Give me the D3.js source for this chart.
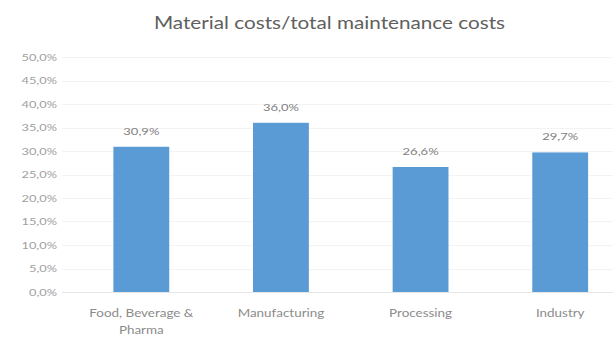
<!DOCTYPE html>
<html>
<head>
<meta charset="utf-8">
<script src="https://cdn.jsdelivr.net/npm/d3@7"></script>
<style>
  html, body { margin: 0; padding: 0; background: #fff; }
  svg { display: block; }
  text { font-family: Lato, "Open Sans", sans-serif; }
</style>
</head>
<body>
<svg id="chart" width="613" height="337"></svg>
<script>
// Share of material costs in total maintenance costs, per sector
const categories = [["Food, Beverage &", "Pharma"], ["Manufacturing"], ["Processing"], ["Industry"]];
const values = [30.9, 36.0, 26.6, 29.7];
const yTicks = [0, 5, 10, 15, 20, 25, 30, 35, 40, 45, 50];
const title = "Material costs/total maintenance costs";

const fmt = v => v.toFixed(1).replace(".", ",") + "%";

// widen text horizontally by a factor, keeping its anchor
function widen(sel, factor) {
  sel.each(function() {
    const len = this.getComputedTextLength();
    d3.select(this)
      .attr("textLength", len * factor)
      .attr("lengthAdjust", "spacingAndGlyphs");
  });
}

const svg = d3.select("#chart");
const W = 613, H = 337;

const x = d3.scaleBand()
  .domain(d3.range(values.length))
  .range([71.5, 630])
  .paddingInner(0.6)
  .paddingOuter(0.3);

const y = d3.scaleLinear().domain([0, 50]).range([292, 57]);

// title
svg.append("text")
  .attr("x", 329.5).attr("y", 29)
  .attr("text-anchor", "middle")
  .attr("font-size", 18)
  .attr("fill", "#5f5f5f")
  .text(title)
  .call(widen, 1.15);

// gridlines
svg.append("g")
  .selectAll("line")
  .data(yTicks.slice(1))
  .join("line")
  .attr("x1", 62).attr("x2", W)
  .attr("y1", d => Math.round(y(d)) + 0.5)
  .attr("y2", d => Math.round(y(d)) + 0.5)
  .attr("stroke", "#f3f3f3")
  .attr("stroke-width", 1);

// y axis labels
const yAxis = d3.axisLeft(y).tickValues(yTicks).tickFormat(fmt).tickSize(0).tickPadding(0);
const gy = svg.append("g").attr("transform", "translate(57,0)").call(yAxis);
gy.select(".domain").remove();
gy.selectAll("text")
  .attr("font-size", 9.5)
  .attr("fill", "#a0a0a0")
  .attr("font-family", "Lato, 'Open Sans', sans-serif")
  .call(widen, 1.35);

// bars
svg.append("g")
  .selectAll("rect")
  .data(values)
  .join("rect")
  .attr("x", (d, i) => x(i))
  .attr("width", x.bandwidth())
  .attr("y", d => y(d))
  .attr("height", d => y(0) - y(d))
  .attr("fill", "#5b9bd5");

// baseline
svg.append("line")
  .attr("x1", 62).attr("x2", W)
  .attr("y1", Math.round(y(0)) + 0.5).attr("y2", Math.round(y(0)) + 0.5)
  .attr("stroke", "#e6e6e6");

// value labels
svg.append("g")
  .selectAll("text")
  .data(values)
  .join("text")
  .attr("x", (d, i) => x(i) + x.bandwidth() / 2)
  .attr("y", d => y(d) - 12)
  .attr("text-anchor", "middle")
  .attr("font-size", 10)
  .attr("fill", "#808080")
  .text(fmt)
  .call(widen, 1.3);

// category labels
const xAxis = d3.axisBottom(x).tickSize(0).tickPadding(0).tickFormat(() => "");
const gx = svg.append("g").attr("transform", "translate(0,292)").call(xAxis);
gx.select(".domain").remove();
gx.selectAll(".tick text").remove();
gx.selectAll(".tick")
  .append("text")
  .attr("text-anchor", "middle")
  .attr("font-size", 10.5)
  .attr("fill", "#8c8c8c")
  .attr("font-family", "Lato, 'Open Sans', sans-serif")
  .each(function(i) {
    const t = d3.select(this);
    categories[i].forEach((line, k) => {
      t.append("tspan").attr("x", 0).attr("y", 25 + k * 16.5).text(line);
    });
  });
gx.selectAll("tspan").call(widen, 1.28);
</script>
</body>
</html>
